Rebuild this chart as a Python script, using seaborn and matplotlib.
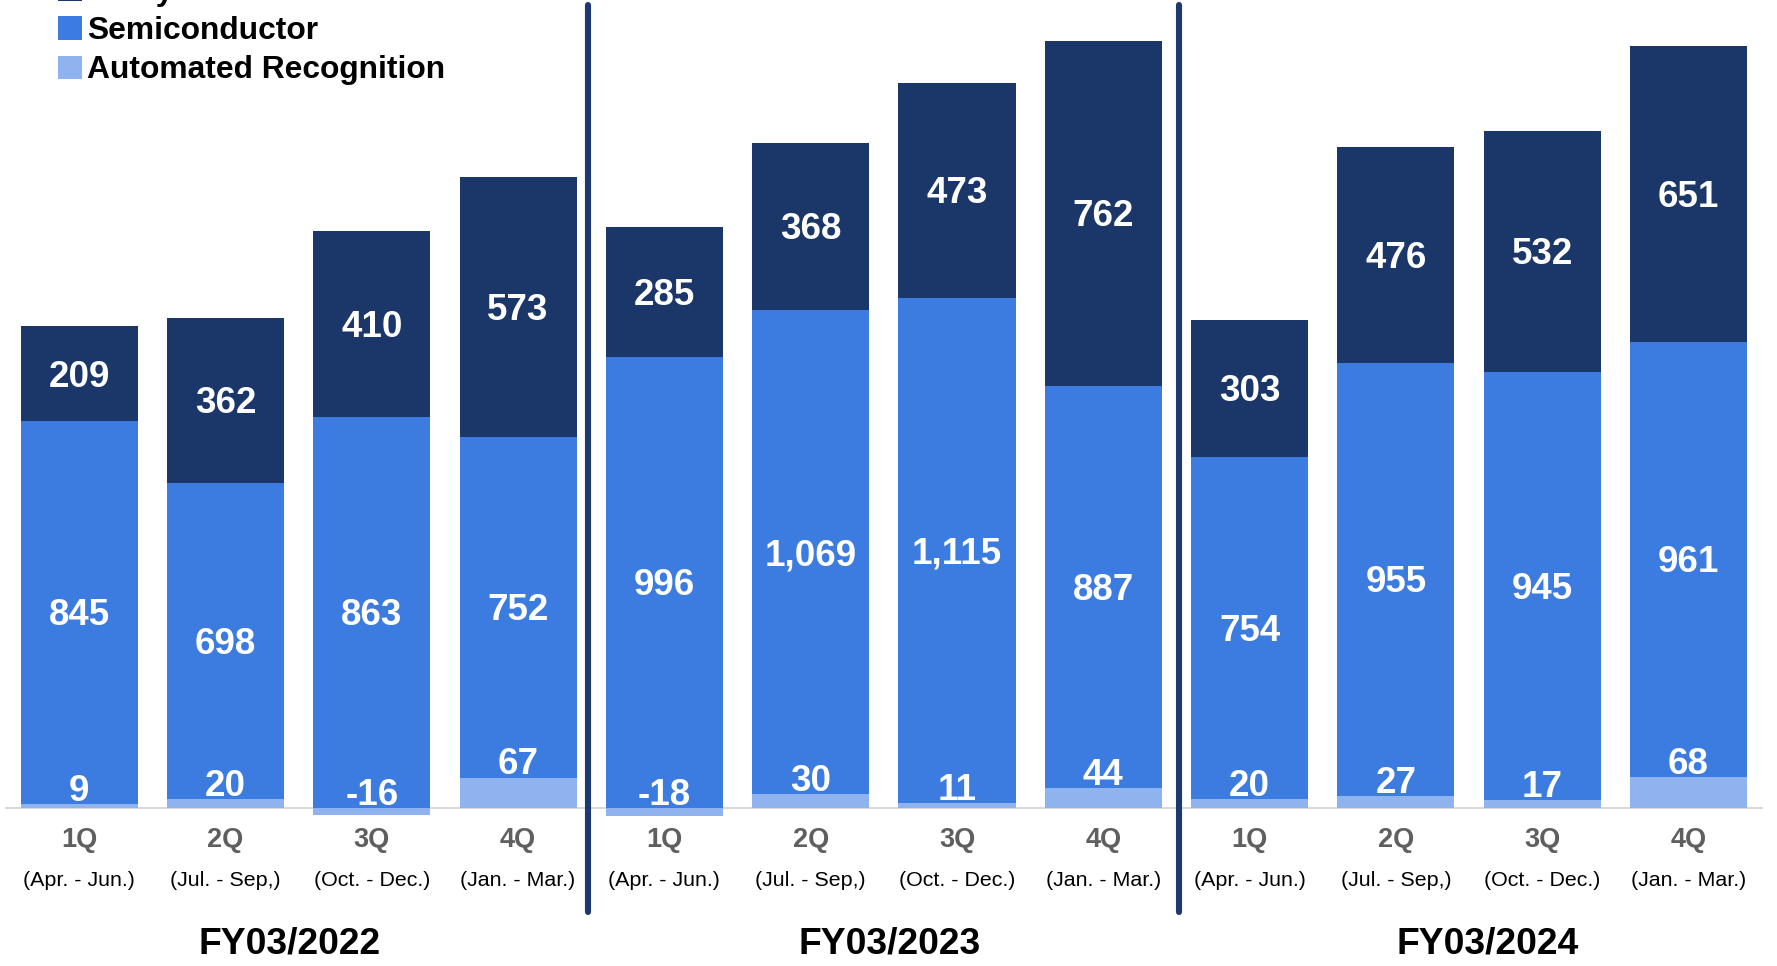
import matplotlib
matplotlib.use("Agg")
import matplotlib.pyplot as plt
from matplotlib import font_manager
import pandas as pd
import seaborn as sns

# Quarterly figures by business segment
fiscal_years = ["FY03/2022", "FY03/2023", "FY03/2024"]
quarters = ["1Q", "2Q", "3Q", "4Q"]
periods = ["(Apr. - Jun.)", "(Jul. - Sep,)", "(Oct. - Dec.)", "(Jan. - Mar.)"]
segments = ["Analytical Instrument", "Semiconductor", "Automated Recognition"]

analytical = [209, 362, 410, 573, 285, 368, 473, 762, 303, 476, 532, 651]
semiconductor = [845, 698, 863, 752, 996, 1069, 1115, 887, 754, 955, 945, 961]
recognition = [9, 20, -16, 67, -18, 30, 11, 44, 20, 27, 17, 68]

C_AI = "#1B3769"
C_SEMI = "#3C7BE0"
C_AR = "#8FB3EE"
C_SEP = "#1D3A6E"
C_AXIS = "#D9D9D9"

slots = [f"{fy} {q}" for fy in fiscal_years for q in quarters]
df = pd.DataFrame({
    "slot": slots,
    "analytical": analytical,
    "semiconductor": semiconductor,
    "recognition": recognition,
})
# negative recognition hangs below zero; the other segments stack from the positive part
df["rec_pos"] = df["recognition"].clip(lower=0)
df["semi_top"] = df["rec_pos"] + df["semiconductor"]
df["total"] = df["semi_top"] + df["analytical"]

sns.set_theme(style="white")

# a slightly condensed face gives the tall, narrow lettering; fall back to the regular width
installed = {f.name for f in font_manager.fontManager.ttflist}
if "Liberation Sans Narrow" in installed:
    plt.rcParams["font.family"] = ["Liberation Sans Narrow", "DejaVu Sans"]
    fs = 1.18
else:
    plt.rcParams["font.family"] = ["Liberation Sans", "DejaVu Sans"]
    fs = 1.0
plt.rcParams["text.color"] = "black"

W, H = 1777, 966
fig = plt.figure(figsize=(W / 100, H / 100), dpi=100)
ax = fig.add_axes([6 / W, 0, 1755.7 / W, 1])

base_px = 808          # pixel row of the zero line
px_per_unit = 0.4533
ax.set_ylim(-(H - base_px) / px_per_unit, base_px / px_per_unit)

common = dict(data=df, x="slot", order=slots, saturation=1, width=0.8,
              errorbar=None, linewidth=0, ax=ax)
sns.barplot(y="total", color=C_AI, **common)
sns.barplot(y="semi_top", color=C_SEMI, **common)
sns.barplot(y="recognition", color=C_AR, **common)
ax.set_xlim(-0.5, len(slots) - 0.5)

# axis styling
for side in ["top", "right", "left"]:
    ax.spines[side].set_visible(False)
ax.spines["bottom"].set_position(("data", 0))
ax.spines["bottom"].set_color(C_AXIS)
ax.spines["bottom"].set_linewidth(1.5)
ax.spines["bottom"].set_zorder(0.5)
ax.set_yticks([])
ax.set_xticks(range(len(slots)))
ax.set_xticklabels([])
ax.tick_params(axis="x", which="major", length=0)
ax.set_xticks([i - 0.5 for i in range(len(slots) + 1)], minor=True)
ax.tick_params(axis="x", which="minor", length=5.8, width=1.5, color=C_AXIS,
               direction="out")
ax.set_xlabel("")
ax.set_ylabel("")

# value labels
lab = dict(ha="center", color="white", fontweight="bold", fontsize=26.5 * fs)
nudge = 3.5 / px_per_unit
for i, row in df.iterrows():
    ax.text(i, row["semi_top"] + row["analytical"] / 2 - nudge,
            f"{row['analytical']:,}", va="center", **lab)
    ax.text(i, row["rec_pos"] + row["semiconductor"] / 2 - nudge,
            f"{row['semiconductor']:,}", va="center", **lab)
    ax.text(i, row["rec_pos"] + 7, f"{row['recognition']:,}", va="baseline", **lab)

# category labels under the axis
xt = ax.get_xaxis_transform()
for i in range(len(slots)):
    q = i % 4
    ax.text(i, 1 - 840 / H, quarters[q], transform=xt, ha="center", va="center",
            color="#5F5F5F", fontweight="bold", fontsize=19.5 * fs)
    ax.text(i, 1 - 880 / H, periods[q], transform=xt, ha="center", va="center",
            color="black", fontsize=15.4 * fs)
for fy, xc in zip(fiscal_years, [1.44, 5.54, 9.63]):
    ax.text(xc, 1 - 944 / H, fy, transform=xt, ha="center", va="center",
            color="black", fontweight="bold", fontsize=26.8 * fs)

# fiscal year separators
for xs in [3.48, 7.52]:
    ax.axvline(xs, ymin=1 - 912 / H, ymax=1 - 5 / H, color=C_SEP, lw=4.4,
               zorder=3, clip_on=False)

# legend
leg = ax.legend(handles=list(ax.containers[:3]), labels=segments,
                loc="upper left", bbox_to_anchor=(58 / W, 1 + 23 / H),
                bbox_transform=fig.transFigure, frameon=False, borderpad=0,
                borderaxespad=0, handlelength=0.755 / fs, handleheight=0.755 / fs,
                handletextpad=0.15, labelspacing=0.29 / fs,
                labelcolor="black",
                prop=dict(weight="bold", size=22.9 * fs))

fig.savefig("out.png", dpi=100)
